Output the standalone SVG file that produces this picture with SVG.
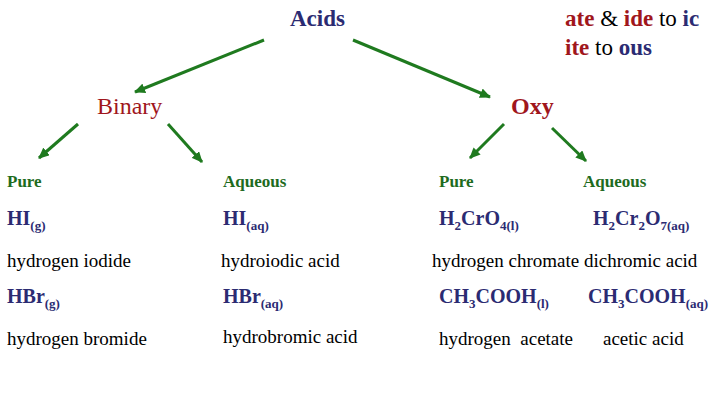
<svg xmlns="http://www.w3.org/2000/svg" width="720" height="405" viewBox="0 0 720 405" font-family="Times New Roman, serif">
<defs>
<marker id="ah" markerUnits="userSpaceOnUse" markerWidth="12" markerHeight="10" refX="10" refY="5" orient="auto">
<path d="M0,0 L11,5 L0,10 Z" fill="#1f7a1f"/>
</marker>
</defs>
<rect width="720" height="405" fill="#fff"/>
<g id="connectors" stroke="#1f7a1f" stroke-width="3" marker-end="url(#ah)">
<line x1="264" y1="40" x2="135" y2="92"/>
<line x1="353" y1="40" x2="490" y2="97"/>
<line x1="78" y1="124" x2="39" y2="158"/>
<line x1="168" y1="124" x2="202" y2="162"/>
<line x1="504" y1="124" x2="470" y2="158"/>
<line x1="552" y1="128" x2="586" y2="161"/>
</g>
<g id="acids"><text x="290" y="26" font-family="Times New Roman, serif" font-size="23" font-weight="bold" fill="#2b2b72">Acids</text></g>
<g id="rule" font-family="Times New Roman, serif" font-size="23">
<text x="565" y="26" font-family="Times New Roman, serif"><tspan fill="#a0161c" font-weight="bold">ate</tspan><tspan fill="#000"> &amp; </tspan><tspan fill="#a0161c" font-weight="bold">ide</tspan><tspan fill="#000"> to </tspan><tspan fill="#2b2b72" font-weight="bold">ic</tspan></text>
<text x="565" y="55" font-family="Times New Roman, serif"><tspan fill="#a0161c" font-weight="bold">ite</tspan><tspan fill="#000"> to </tspan><tspan fill="#2b2b72" font-weight="bold">ous</tspan></text>
</g>
<g id="binary"><text x="97" y="114" font-family="Times New Roman, serif" font-size="24" fill="#a0161c">Binary</text></g>
<g id="oxy"><text x="511" y="114" font-family="Times New Roman, serif" font-size="24" font-weight="bold" fill="#a0161c">Oxy</text></g>
<g font-size="17" font-weight="bold" fill="#1e6b1e">
<g id="bpure"><text x="7" y="187" font-family="Times New Roman, serif">Pure</text></g>
<g id="baq"><text x="223" y="187" font-family="Times New Roman, serif">Aqueous</text></g>
<g id="opure"><text x="439" y="187" font-family="Times New Roman, serif">Pure</text></g>
<g id="oaq"><text x="583" y="187" font-family="Times New Roman, serif">Aqueous</text></g>
</g>
<g id="formulas" font-size="20" font-weight="bold" fill="#2b2b72">
<text x="7" y="225" font-family="Times New Roman, serif">HI<tspan font-size="13" dy="5">(g)</tspan></text>
<text x="223" y="225" font-family="Times New Roman, serif">HI<tspan font-size="13" dy="5">(aq)</tspan></text>
<text x="439" y="225" font-family="Times New Roman, serif">H<tspan font-size="13" dy="5">2</tspan><tspan dy="-5">CrO</tspan><tspan font-size="13" dy="5">4(l)</tspan></text>
<text x="593" y="225" font-family="Times New Roman, serif">H<tspan font-size="13" dy="5">2</tspan><tspan dy="-5">Cr</tspan><tspan font-size="13" dy="5">2</tspan><tspan dy="-5">O</tspan><tspan font-size="13" dy="5">7(aq)</tspan></text>
<text x="7" y="303" font-family="Times New Roman, serif">HBr<tspan font-size="13" dy="5">(g)</tspan></text>
<text x="223" y="303" font-family="Times New Roman, serif">HBr<tspan font-size="13" dy="5">(aq)</tspan></text>
<text x="439" y="303" font-family="Times New Roman, serif">CH<tspan font-size="13" dy="5">3</tspan><tspan dy="-5">COOH</tspan><tspan font-size="13" dy="5">(l)</tspan></text>
<text x="588" y="303" font-family="Times New Roman, serif">CH<tspan font-size="13" dy="5">3</tspan><tspan dy="-5">COOH</tspan><tspan font-size="13" dy="5">(aq)</tspan></text>
</g>
<g id="names" font-size="19" fill="#000">
<text x="7" y="267" font-family="Times New Roman, serif">hydrogen iodide</text>
<text x="221" y="267" font-family="Times New Roman, serif">hydroiodic acid</text>
<text x="432" y="267" font-family="Times New Roman, serif">hydrogen chromate dichromic acid</text>
<text x="7" y="345" font-family="Times New Roman, serif">hydrogen bromide</text>
<text x="223" y="343" font-family="Times New Roman, serif">hydrobromic acid</text>
<text x="439" y="345" font-family="Times New Roman, serif" xml:space="preserve">hydrogen  acetate</text>
<text x="603" y="345" font-family="Times New Roman, serif">acetic acid</text>
</g>
</svg>
